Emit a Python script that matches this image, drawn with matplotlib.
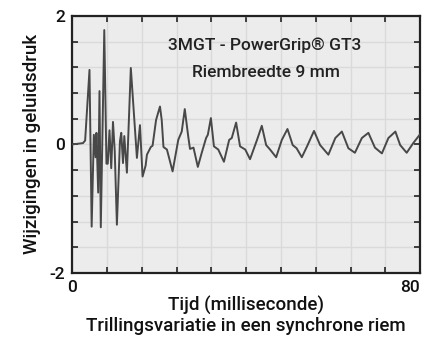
import matplotlib
matplotlib.use("Agg")
import matplotlib.pyplot as plt
import numpy as np

plt.rcParams['font.family'] = ['Roboto', 'DejaVu Sans']

t = [0, 2.5, 3.0, 4.0, 4.5, 5.0, 5.4, 5.6, 6.0, 6.3, 6.6, 7.4,
     7.9, 8.2, 8.6, 9.0, 9.4, 9.8, 10.3, 11.0, 11.3, 11.7, 12.0, 12.6, 13.5,
     14.9, 15.6, 16.2, 16.9, 17.2, 18.1, 18.5, 19.3, 20.2, 20.6, 21.0, 21.8,
     23.1, 24.4, 25.2, 25.9, 26.7, 27.1, 27.9, 28.9, 29.8, 30.8, 31.2, 31.9,
     32.6, 33.6, 34.9, 36.1, 36.7, 37.7, 38.6, 39.8, 40.9, 42.5, 43.6, 44.6,
     45.5, 46.9, 48.2, 49.5, 50.7, 51.6, 52.8, 54.0, 55.6, 57.0, 58.9, 60.5,
     62.0, 63.5, 65.0, 66.6, 68.1, 69.6, 71.2, 72.7, 74.3, 75.4, 76.9, 78.4, 80.0]
v = [0, 0.02, 0.06, 1.16, -1.28, 0.15, -0.2, 0.18, -0.75, 0.83, -1.29, 1.78,
     -0.3, -0.3, 0.22, -0.37, 0.35, -0.1, -1.25, 0.05, 0.18, -0.29, 0.13, -0.44, 1.19,
     -0.21, 0.3, -0.5, -0.33, -0.16, -0.04, -0.02, 0.38, 0.59, 0.38, -0.04, -0.08,
     -0.42, 0.07, 0.2, 0.55, 0.12, -0.07, -0.05, -0.35, -0.13, 0.1, 0.15, 0.41,
     -0.03, -0.08, -0.27, 0.07, 0.1, 0.34, -0.03, -0.08, -0.23, 0.07, 0.29, -0.01,
     -0.08, -0.2, 0.07, 0.24, -0.01, -0.06, -0.2, -0.03, 0.21, -0.01, -0.16, 0.1,
     0.2, -0.06, -0.13, 0.1, 0.18, -0.05, -0.14, 0.1, 0.2, -0.01, -0.13, 0.02, 0.16]

x_ticks = [0, 8, 16, 24, 32, 40, 48, 56, 64, 72, 80]
x_labels = ['0', '', '', '', '', '', '', '', '', '', '80']
y_ticks = [-2, -1.6, -1.2, -0.8, -0.4, 0, 0.4, 0.8, 1.2, 1.6, 2]
y_labels = ['-2', '', '', '', '', '0', '', '', '', '', '2']

title1 = "3MGT - PowerGrip® GT3"
title2 = "Riembreedte 9 mm"
xlabel = "Tijd (milliseconde)\nTrillingsvariatie in een synchrone riem"
ylabel = "Wijzigingen in geluidsdruk"

fig = plt.figure(figsize=(4.24, 3.39), dpi=100)
ax = fig.add_axes([0.170, 0.195, 0.821, 0.758])
ax.set_facecolor('#ececec')
ax.plot(t, v, color='#484848', lw=1.4, zorder=3)
ax.set_xlim(0, 80)
ax.set_ylim(-2, 2)
ax.set_xticks(x_ticks)
ax.set_xticklabels(x_labels)
ax.set_yticks(y_ticks)
ax.set_yticklabels(y_labels)
ax.get_xticklabels()[-1].set_ha('right')
ax.grid(True, color='#dadada', lw=1.0, zorder=0)
ax.tick_params(direction='in', length=4, width=1.2, top=True, right=True,
               labelsize=12.5, pad=5, color='#222222', labelcolor='#111111')
for lab in ax.get_xticklabels() + ax.get_yticklabels():
    lab.set_fontweight('medium')
for s in ax.spines.values():
    s.set_linewidth(1.6)
    s.set_color('#222222')
ax.set_xlabel(xlabel, fontsize=13.5, linespacing=1.15, labelpad=1, fontweight='medium', color='#111111')
ax.set_ylabel(ylabel, fontsize=13.5, labelpad=6, fontweight='medium', color='#111111')
ax.text(0.553, 0.887, title1, transform=ax.transAxes, ha='center', va='center', fontsize=12.5, fontweight='medium', color='#222222')
ax.text(0.556, 0.778, title2, transform=ax.transAxes, ha='center', va='center', fontsize=12.5, fontweight='medium', color='#222222')
fig.savefig('out.png', dpi=100, facecolor='white')
